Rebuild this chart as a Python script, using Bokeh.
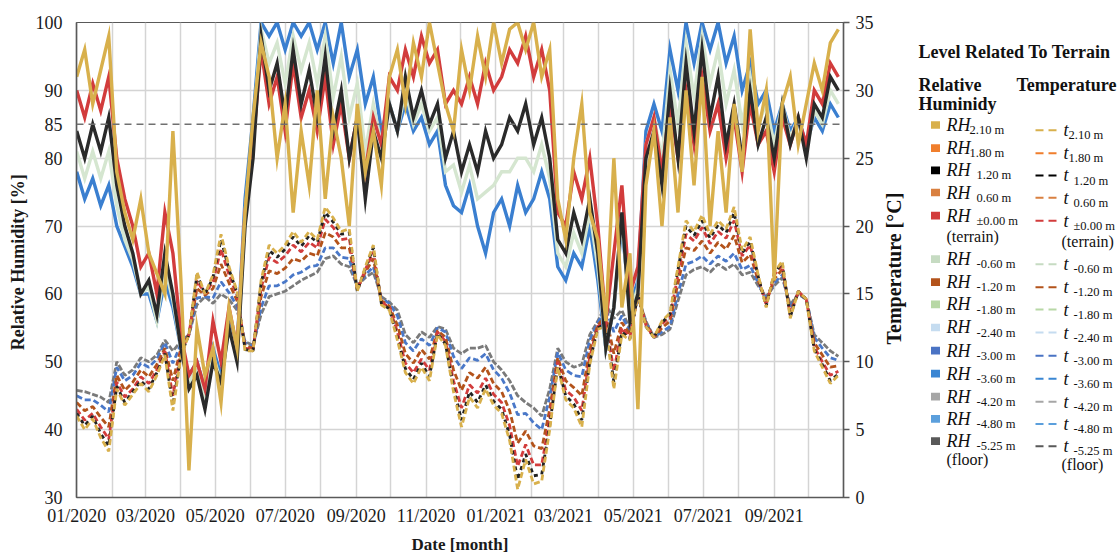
import math
from datetime import datetime
import pandas as pd
from bokeh.plotting import figure
from bokeh.models import (Range1d, LinearAxis, FixedTicker, MonthsTicker,
                          DatetimeTickFormatter, Span)
from bokeh.layouts import row
from bokeh.core.properties import value
from bokeh.embed import file_html
from bokeh.resources import INLINE

# ---------------- data (weekly readings) ----------------
dates = pd.date_range("2020-01-01", periods=96, freq="7D")

rh_210 = [92, 96, 88, 93, 98, 78, 72, 68, 74, 66, 63, 60,
          84, 62, 34, 55, 48, 52, 44, 58, 52, 72, 86, 97,
          92, 80, 88, 72, 84, 76, 90, 74, 86, 80, 70, 88,
          78, 84, 76, 92, 96, 88, 97, 92, 100, 94, 88, 84,
          96, 90, 98, 92, 100, 94, 99, 100, 96, 100, 92, 96,
          74, 68, 80, 88, 72, 68, 56, 80, 58, 66, 43, 76,
          84, 70, 86, 72, 90, 76, 92, 70, 84, 72, 88, 78,
          99, 84, 90, 62, 88, 92, 82, 88, 94, 90, 97, 99]
rh_120 = [84, 80, 85, 81, 86, 76, 70, 66, 60, 62, 57, 66,
          60, 52, 46, 48, 43, 50, 47, 55, 50, 70, 80, 98,
          90, 94, 86, 96, 88, 93, 86, 95, 84, 90, 80, 86,
          74, 84, 80, 88, 84, 92, 86, 90, 85, 88, 80, 84,
          78, 82, 78, 84, 80, 82, 86, 84, 88, 82, 86, 80,
          68, 66, 72, 68, 74, 66, 52, 58, 72, 56, 60, 80,
          84, 76, 90, 80, 94, 84, 96, 86, 92, 82, 88, 80,
          90, 82, 86, 80, 88, 82, 86, 80, 88, 86, 92, 90]
rh_000 = [90, 86, 91, 87, 92, 80, 74, 70, 64, 66, 60, 72,
          66, 54, 48, 50, 46, 56, 50, 58, 52, 72, 82, 96,
          88, 92, 84, 94, 86, 90, 84, 92, 82, 88, 80, 86,
          78, 86, 82, 92, 90, 96, 92, 98, 94, 96, 88, 90,
          88, 92, 88, 94, 90, 92, 96, 94, 98, 92, 96, 90,
          72, 70, 78, 74, 80, 70, 56, 66, 76, 60, 64, 82,
          86, 78, 88, 80, 90, 82, 92, 84, 88, 80, 86, 78,
          88, 82, 84, 78, 86, 82, 86, 82, 90, 88, 94, 92]
rh_m060 = [81, 77, 81, 77, 81, 73, 68, 65, 60, 61, 56, 64,
           59, 52, 47, 49, 44, 51, 47, 55, 51, 72, 84, 99,
           94, 97, 91, 98, 93, 97, 91, 98, 89, 95, 86, 91,
           81, 88, 82, 88, 84, 90, 85, 88, 84, 86, 78, 79,
           75, 79, 74, 75, 76, 78, 78, 80, 80, 78, 82, 77,
           66, 64, 69, 66, 72, 64, 52, 58, 71, 57, 61, 82,
           86, 80, 93, 85, 97, 89, 98, 91, 96, 88, 93, 85,
           92, 85, 88, 82, 88, 83, 86, 81, 87, 85, 90, 88]
rh_m360 = [78, 74, 77, 73, 76, 70, 67, 64, 60, 60, 56, 62,
           58, 52, 48, 50, 46, 52, 48, 56, 52, 74, 86, 100,
           98, 100, 96, 100, 98, 100, 96, 100, 94, 100, 92, 96,
           88, 92, 84, 88, 84, 88, 84, 86, 82, 84, 76, 73,
           72, 76, 70, 66, 72, 74, 70, 76, 72, 74, 78, 74,
           64, 62, 66, 64, 70, 62, 52, 58, 70, 58, 62, 84,
           88, 84, 96, 90, 100, 94, 100, 96, 100, 94, 98, 90,
           94, 88, 90, 84, 88, 84, 86, 82, 86, 84, 88, 86]

t_m525 = [7.9, 7.8, 7.6, 7.4, 7.0, 10.0, 9.0, 9.4, 10.3, 10.0, 10.5, 11.6,
          10.8, 11.5, 12.0, 14.2, 14.8, 14.3, 15.0, 14.6, 13.8, 11.5, 11.2, 13.5,
          14.8, 15.0, 15.2, 15.6, 16.0, 16.3, 16.6, 17.6, 17.8, 17.2, 17.0, 15.6,
          16.2, 16.6, 14.8, 14.4, 13.8, 12.0, 11.4, 12.2, 11.8, 12.6, 12.4, 11.0,
          10.6, 11.0, 11.0, 11.2, 10.0, 9.4, 8.6, 7.5, 7.0, 6.6, 6.0, 8.0,
          11.0, 10.0, 9.6, 9.8, 12.0, 13.0, 14.2, 13.2, 13.8, 12.4, 14.8, 13.0,
          11.8, 12.0, 12.4, 14.5, 16.4, 16.8, 17.0, 16.6, 17.2, 16.8, 17.2, 16.4,
          16.6, 15.6, 14.8, 15.6, 16.2, 14.2, 15.0, 14.6, 12.0, 11.4, 10.8, 10.4]
t_m300 = [7.5, 7.2, 7.2, 6.8, 6.3, 9.6, 8.6, 9.0, 9.9, 9.6, 10.2, 11.4,
          9.9, 11.3, 12.0, 14.7, 14.8, 14.7, 15.9, 15.1, 14.1, 11.4, 11.1, 14.0,
          15.6, 15.6, 15.9, 16.4, 16.6, 17.0, 17.1, 18.4, 18.4, 17.7, 17.6, 15.5,
          16.4, 17.0, 14.7, 14.3, 13.4, 11.4, 10.8, 11.7, 11.2, 12.5, 12.2, 10.4,
          9.5, 10.3, 10.1, 10.6, 9.4, 8.8, 7.7, 6.1, 6.2, 5.5, 5.0, 7.4,
          10.7, 9.4, 9.0, 8.9, 11.6, 12.9, 13.9, 12.2, 13.4, 12.2, 14.8, 12.9,
          11.8, 12.2, 12.6, 15.0, 17.2, 17.4, 17.8, 17.2, 17.8, 17.4, 18.0, 16.8,
          17.1, 15.8, 14.6, 15.8, 16.4, 14.0, 15.0, 14.6, 11.8, 11.0, 10.3, 10.1]
t_m120 = [7.0, 6.4, 6.7, 5.9, 5.2, 9.0, 7.9, 8.5, 9.4, 8.9, 9.8, 11.0,
          8.6, 11.0, 12.0, 15.4, 14.9, 15.4, 17.2, 15.8, 14.5, 11.2, 11.0, 14.8,
          16.7, 16.5, 16.9, 17.6, 17.4, 18.0, 17.8, 19.5, 19.2, 18.4, 18.4, 15.4,
          16.6, 17.6, 14.5, 14.1, 12.7, 10.6, 9.9, 10.9, 10.2, 12.3, 11.8, 9.4,
          7.9, 9.2, 8.8, 9.6, 8.4, 7.8, 6.4, 4.0, 4.9, 3.8, 3.6, 6.5,
          10.3, 8.6, 8.1, 7.5, 10.9, 12.7, 13.4, 10.6, 12.9, 12.0, 14.9, 12.8,
          11.8, 12.5, 13.0, 15.8, 18.4, 18.2, 18.9, 18.0, 18.8, 18.3, 19.3, 17.3,
          17.9, 16.0, 14.4, 16.1, 16.8, 13.7, 15.1, 14.6, 11.4, 10.5, 9.6, 9.7]
t_000 = [6.5, 5.7, 6.2, 5.2, 4.3, 8.5, 7.4, 8.0, 8.9, 8.4, 9.4, 10.8,
         7.5, 10.7, 12.0, 16.0, 15.0, 15.9, 18.3, 16.4, 14.9, 11.0, 10.9, 15.4,
         17.7, 17.3, 17.8, 18.6, 18.1, 18.8, 18.4, 20.5, 19.9, 19.0, 19.1, 15.3,
         16.8, 18.1, 14.4, 14.0, 12.2, 9.9, 9.2, 10.2, 9.4, 12.2, 11.5, 8.6,
         6.6, 8.3, 7.7, 8.8, 7.6, 7.0, 5.3, 2.3, 3.9, 2.4, 2.4, 5.8,
         10.0, 7.9, 7.4, 6.4, 10.4, 12.6, 13.0, 9.3, 12.5, 11.8, 15.0, 12.7,
         11.8, 12.8, 13.3, 16.4, 19.4, 18.9, 19.9, 18.7, 19.6, 19.1, 20.4, 17.8,
         18.6, 16.2, 14.2, 16.4, 17.1, 13.4, 15.2, 14.6, 11.1, 10.0, 9.0, 9.3]
t_120 = [6.2, 5.3, 6.0, 4.7, 3.8, 8.2, 7.0, 7.8, 8.6, 8.0, 9.2, 10.6,
         6.8, 10.5, 12.0, 16.4, 15.0, 16.2, 19.0, 16.8, 15.1, 10.9, 10.8, 15.8,
         18.2, 17.7, 18.3, 19.2, 18.5, 19.3, 18.8, 21.0, 20.3, 19.4, 19.5, 15.2,
         16.9, 18.4, 14.3, 13.9, 11.8, 9.5, 8.7, 9.9, 8.9, 12.1, 11.3, 8.1,
         5.7, 7.8, 7.0, 8.3, 7.1, 6.5, 4.6, 1.3, 3.2, 1.6, 1.7, 5.3,
         9.7, 7.5, 6.9, 5.7, 10.0, 12.5, 12.8, 8.5, 12.2, 11.7, 15.0, 12.6,
         11.8, 12.9, 13.5, 16.8, 20.0, 19.3, 20.4, 19.1, 20.1, 19.5, 21.0, 18.0,
         18.9, 16.3, 14.1, 16.5, 17.3, 13.3, 15.2, 14.6, 10.9, 9.8, 8.6, 9.1]
t_210 = [6.0, 5.0, 5.8, 4.4, 3.4, 8.0, 6.8, 7.6, 8.4, 7.8, 9.0, 10.5,
         6.4, 10.4, 12.0, 16.6, 15.0, 16.4, 19.4, 17.0, 15.2, 10.8, 10.8, 16.0,
         18.6, 18.0, 18.6, 19.6, 18.8, 19.6, 19.0, 21.4, 20.6, 19.6, 19.8, 15.2,
         17.0, 18.6, 14.2, 13.8, 11.6, 9.2, 8.4, 9.6, 8.6, 12.0, 11.2, 7.8,
         5.2, 7.4, 6.6, 8.0, 6.8, 6.2, 4.2, 0.6, 2.8, 1.0, 1.2, 5.0,
         9.6, 7.2, 6.6, 5.2, 9.8, 12.4, 12.6, 8.0, 12.0, 11.6, 15.0, 12.6,
         11.8, 13.0, 13.6, 17.0, 20.4, 19.6, 20.8, 19.4, 20.4, 19.8, 21.4, 18.2,
         19.2, 16.4, 14.0, 16.6, 17.4, 13.2, 15.2, 14.6, 10.8, 9.6, 8.4, 9.0]

rh_ticks = [30, 40, 50, 60, 70, 80, 85, 90, 100]
t_ticks = [0, 5, 10, 15, 20, 25, 30, 35]
rh_limit = 85

levels = ["2.10 m", "1.80 m", "1.20 m", "0.60 m", "\u00b10.00 m", "-0.60 m",
          "-1.20 m", "-1.80 m", "-2.40 m", "-3.00 m", "-3.60 m", "-4.20 m",
          "-4.80 m", "-5.25 m"]
level_colors = ["#d8b04c", "#f07e2c", "#000000", "#d98040", "#d23c3c", "#c6dbc2",
                "#b3531b", "#b8d8a6", "#c5dcf0", "#4a73c4", "#3a86d3", "#a6a6a6",
                "#5b9fdc", "#595959"]

# ---------------- main figure ----------------
FONT_NAME = "Liberation Serif"
FONT = value(FONT_NAME)
W, H = 880, 556
p = figure(width=W, height=H, x_axis_type="datetime", toolbar_location=None,
           output_backend="svg",
           x_range=Range1d(datetime(2019, 12, 31, 20), datetime(2021, 10, 31, 12)),
           y_range=Range1d(30, 100),
           min_border_left=76, min_border_right=37, min_border_top=22,
           min_border_bottom=56)
p.extra_y_ranges = {"temp": Range1d(0, 35)}
p.background_fill_color = "white"
p.border_fill_color = "white"
p.outline_line_color = "#595959"
p.outline_line_width = 1.2

p.xgrid.ticker = MonthsTicker(months=list(range(12)))
p.ygrid.ticker = FixedTicker(ticks=[30, 40, 50, 60, 70, 80, 90, 100])
p.grid.grid_line_color = "#d4d4d4"
p.grid.grid_line_width = 1.5

xa = p.xaxis[0]
xa.ticker = MonthsTicker(months=[0, 2, 4, 6, 8, 10])
fmt = "%m/%Y"
xa.formatter = DatetimeTickFormatter(days=fmt, months=fmt, years=fmt, hours=fmt,
                                     hourmin=fmt, minutes=fmt)
xa.axis_label = "Date [month]"

ya = p.yaxis[0]
ya.ticker = FixedTicker(ticks=rh_ticks)
ya.axis_label = "Relative Humidity  [%]"

ra = LinearAxis(y_range_name="temp", ticker=FixedTicker(ticks=t_ticks))
p.add_layout(ra, "right")

for ax in (xa, ya, ra):
    ax.major_label_text_font = FONT_NAME
    ax.major_label_text_font_size = "18px"
    ax.major_label_text_color = "#1a1a1a"
    ax.axis_label_text_font = FONT_NAME
    ax.axis_label_text_font_style = "bold"
    ax.axis_label_text_color = "#1a1a1a"
    ax.axis_line_color = "#595959"
    ax.axis_line_width = 1.5
    ax.minor_tick_line_color = None
    ax.major_tick_in = 0
xa.major_tick_out = 0
xa.major_label_standoff = 8
xa.axis_label_standoff = 6
xa.axis_label_text_font_size = "17px"
ya.major_tick_out = 0
ya.major_label_standoff = 14
ya.axis_label_standoff = 5
ya.axis_label_text_font_size = "18px"
ra.major_tick_out = 6
ra.major_tick_line_color = "#595959"
ra.major_tick_line_width = 1.5
ra.major_label_standoff = 6

# temperature lines (dashed)
t_series = [(t_m525, "#7a7a7a", "6 2"), (t_m300, "#4a78c8", "6 3"),
            (t_m120, "#b3531b", "6 3"), (t_000, "#d23c3c", "6 3"),
            (t_120, "#222222", "4 4"), (t_210, "#d8b04c", "6 3")]
for vals, col, dash in t_series:
    p.line(dates, vals, y_range_name="temp", line_color=col, line_width=2.8,
           line_dash=dash)

# relative humidity lines
rh_series = [(rh_m360, "#3a7fd0"), (rh_m060, "#d5e6d0"), (rh_000, "#d23c3c"),
             (rh_120, "#2a2a2a"), (rh_210, "#d8b04c")]
for vals, col in rh_series:
    p.line(dates, vals, line_color=col, line_width=3.4, line_join="miter")

p.add_layout(Span(location=rh_limit, dimension="width", line_color="#707070",
                  line_width=1.6, line_dash="7 5"))

# ---------------- legend figure ----------------
LW = 1119 - W
lg = figure(width=LW, height=H, toolbar_location=None, output_backend="svg",
            x_range=Range1d(0, LW), y_range=Range1d(H, 0),
            x_axis_location=None, y_axis_location=None, min_border=0)
lg.grid.visible = False
lg.outline_line_color = None
lg.background_fill_color = "white"
lg.border_fill_color = "white"

X0, Y0 = W, 0  # page offset of legend canvas

def tx(xs, ys, texts, size, style="normal", align="left", angle=0.0):
    lg.text(x=[a - X0 for a in xs], y=[b - Y0 for b in ys], text=texts,
            text_font=FONT, text_font_size=size, text_font_style=style,
            text_align=align, text_baseline="middle", text_color="#111111",
            angle=angle)

tx([893], [288], ["Temperature [\u00b0C]"], "20px", "bold", "center", math.pi / 2)
tx([918], [35], ["Level Related To Terrain"], "18px", "bold")
tx([918, 918, 1016], [73, 95, 73], ["Relative", "Huminidy", "Temperature"],
   "18px", "bold")

ypos = [120, 147, 173, 199, 226, 277, 304, 330, 357, 384, 411, 438, 464, 490]
tdy = 6
lg.rect(x=[935 - X0] * 14, y=[v - Y0 for v in ypos], width=9, height=9,
        fill_color=level_colors, line_color=None)
tx([946] * 14, ypos, ["RH"] * 14, "18px", "italic")
sub_rh_x = [969 if i < 2 else 976 for i in range(14)]
tx(sub_rh_x, [v + 6 for v in ypos], levels, "12.5px")

for v, c in zip(ypos, level_colors):
    lg.line(x=[1035 - X0, 1056 - X0], y=[v + tdy - Y0] * 2, line_color=c,
            line_width=2, line_dash="8 5")
tx([1063] * 14, [v + tdy for v in ypos], ["t"] * 14, "18px", "italic")
sub_t_x = [1068 if i < 2 else 1073 for i in range(14)]
tx(sub_t_x, [v + tdy + 6 for v in ypos], levels, "12.5px")

tx([946, 1061], [251, 256], ["(terrain)", "(terrain)"], "16px")
tx([946, 1061], [512, 517], ["(floor)", "(floor)"], "16px")

layout = row(p, lg)
open("out.html", "w").write(file_html(layout, INLINE))
